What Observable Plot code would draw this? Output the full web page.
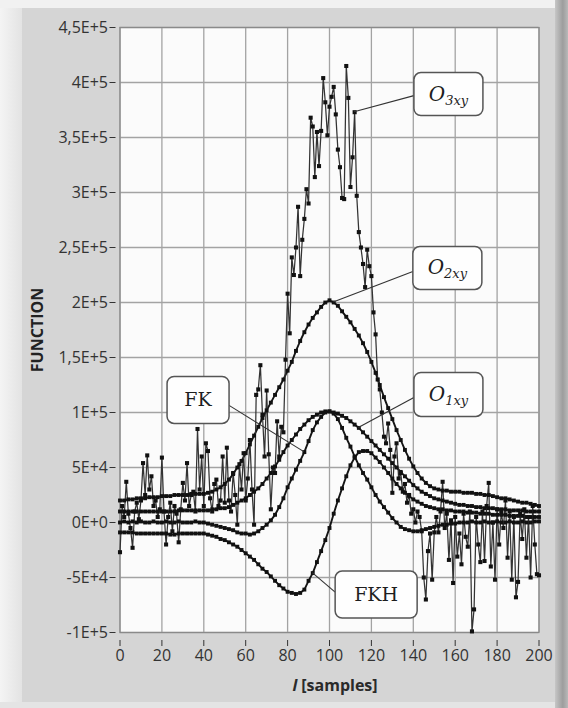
<!DOCTYPE html>
<html><head><meta charset="utf-8">
<script src="https://cdn.jsdelivr.net/npm/d3@7"></script>
<script src="https://cdn.jsdelivr.net/npm/@observablehq/plot@0.6"></script>
<style>
body{margin:0;background:#d5d5d5;}
#wrap{position:relative;width:568px;height:708px;background:#d5d5d5;overflow:hidden;}
.bg{position:absolute;}
#chart{position:absolute;left:0;top:0;}
</style></head><body>
<div id="wrap">
<div class="bg" style="left:0;top:0;width:22px;height:708px;background:linear-gradient(to right,#f4f4f4,#e3e3e3)"></div>
<div class="bg" style="left:0;top:0;width:568px;height:8px;background:#f1f1f1"></div>
<div class="bg" style="left:555px;top:0;width:13px;height:708px;background:linear-gradient(to right,#c6c6c6,#9d9d9d 60%,#b9b9b9)"></div>
<div class="bg" style="left:0;top:702px;width:555px;height:6px;background:#e4e4e4"></div>
<div id="chart"></div>
</div>
<script>
// ---- data (values in thousands) ----
const lAll = d3.range(0, 201, 1);      // sample index for O3xy
const lSmooth = d3.range(0, 201, 2);   // sample index for the smooth series

const o3xy = [
 -27,15,5,37,8,-5,-23,10,18,3,20,
 54,25,61,30,42,15,20,5,12,59,
 10,-20,5,18,-8,15,8,-18,12,36,
 20,54,15,25,28,10,85,30,60,15,
 72,65,22,10,35,39,15,20,60,18,
 68,20,10,45,25,-2,53,30,63,20,
 40,75,30,-2,116,121,143,98,60,120,
 62,12,50,45,92,60,87,82,148,208,
 172,241,225,250,287,224,257,276,303,290,
 368,360,314,355,324,356,404,382,352,378,
 387,396,371,339,323,295,294,415,386,305,
 332,373,297,264,250,235,214,248,233,224,
 191,171,130,121,100,78,72,90,66,27,
 60,72,40,45,28,35,18,25,8,12,
 0,10,5,-8,-50,-70,-26,-10,-52,-9,
 5,-9,10,37,-5,8,-34,2,-55,5,
 -31,-10,-38,8,-13,-22,10,-99,-79,5,
 -20,-36,10,-35,15,36,-40,0,-52,12,
 -20,10,-5,20,-32,10,-52,5,-68,-54,
 8,-15,12,-32,5,-50,15,-20,-47,-48
];
const o2xy = [
 20,20,21,21,22,22,22,23,23,23,
 24,24,24,25,25,25,25,26,26,26,
 26,27,28,30,32,35,39,44,50,56,
 63,71,79,87,95,102,109,116,123,130,
 138,146,156,165,173,180,186,191,196,200,
 202,200,197,192,187,182,176,170,163,155,
 146,136,125,114,104,94,84,75,66,58,
 51,45,40,36,33,31,30,29,29,28,
 28,28,27,27,27,26,26,25,25,24,
 23,22,22,21,20,19,18,18,17,16,
 15
];
const o1xy = [
 10,10,10,10,10,10,10,10,10,10,
 10,10,10,10,11,11,11,11,11,11,
 11,11,12,12,13,13,14,16,18,20,
 22,25,28,31,35,40,45,51,57,64,
 70,75,80,85,89,93,96,98,100,101,
 101,100,99,97,95,92,89,86,82,78,
 74,70,66,62,58,54,50,46,42,38,
 34,31,28,26,24,22,21,20,19,18,
 17,16,16,15,15,14,14,13,13,13,
 12,12,12,11,11,11,11,10,10,10,
 10
];
const fk = [
 0,1,0,1,0,1,0,0,1,0,
 0,1,0,0,1,0,0,0,1,0,
 0,-1,-2,-3,-4,-5,-6,-7,-9,-10,
 -10,-11,-10,-8,-5,-2,2,7,14,22,
 32,40,48,56,64,74,84,91,96,100,
 101,99,94,86,77,69,60,52,45,39,
 32,25,19,14,9,4,0,-4,-6,-7,
 -8,-8,-7,-6,-5,-4,-3,-2,-2,-1,
 -1,0,0,0,1,0,0,1,0,0,
 1,0,0,1,0,0,1,0,0,1,
 1
];
const fkh = [
 -9,-9,-9,-9,-10,-10,-10,-10,-10,-10,
 -10,-10,-11,-11,-10,-10,-10,-10,-10,-10,
 -10,-11,-12,-13,-15,-16,-18,-20,-22,-25,
 -28,-31,-34,-38,-42,-45,-49,-53,-57,-60,
 -63,-64,-65,-64,-61,-53,-46,-36,-26,-16,
 -5,8,20,31,42,52,59,64,65,65,
 63,59,55,50,45,40,35,31,27,24,
 21,19,17,15,14,13,12,12,11,11,
 10,10,10,9,9,9,8,8,8,7,
 7,7,7,6,6,6,6,5,5,5,
 5
];

const xTicks = [0,20,40,60,80,100,120,140,160,180,200];
const yTicks = [-100000,-50000,0,50000,100000,150000,200000,250000,300000,350000,400000,450000];
const yTickLabels = ["-1E+5","-5E+4","0E+0","5E+4","1E+5","1,5E+5","2E+5","2,5E+5","3E+5","3,5E+5","4E+5","4,5E+5"];

// annotations: label, subscript, sample index pointed at, box centre (data units, value in thousands)
const annLabel = ["O","O","O","FK","FKH"];
const annSub = ["3xy","2xy","1xy","",""];
const annIndex = [112, 51, 57, 44, 46];
const annBoxL = [157, 156.5, 157, 37.5, 122.5];
const annBoxV = [389, 231, 116, 111, -66];

// ---- build table ----
const K = 1000;
const smoothRows = [];
[["O2xy",o2xy],["O1xy",o1xy],["FK",fk],["FKH",fkh]].forEach(([name,arr]) =>
  arr.forEach((v,i) => smoothRows.push({series:name, l:lSmooth[i], v:v*K})));
const noisyRows = o3xy.map((v,i) => ({series:"O3xy", l:lAll[i], v:v*K}));
const annSeriesRows = [
  noisyRows,
  smoothRows.filter(d=>d.series==="O2xy"),
  smoothRows.filter(d=>d.series==="O1xy"),
  smoothRows.filter(d=>d.series==="FK"),
  smoothRows.filter(d=>d.series==="FKH")
];

// ---- layout ----
const W = 568, H = 708;
const plot = Plot.plot({
  width: W, height: H,
  marginLeft: 119.5, marginRight: 29.5, marginTop: 27, marginBottom: 76,
  style: {background: "transparent", fontFamily: "'Open Sans', sans-serif", fontSize: "16px", color: "#333", overflow: "visible"},
  x: {domain: [0, 200]},
  y: {domain: [-100000, 450000]},
  marks: [
    Plot.frame({fill: "#fbfbfb", stroke: "none"}),
    Plot.gridX(xTicks, {stroke: "#a3a3a3", strokeOpacity: 1, strokeWidth: 1.3}),
    Plot.gridY(yTicks, {stroke: "#a3a3a3", strokeOpacity: 1, strokeWidth: 1.3}),
    Plot.frame({stroke: "#8a8a8a", strokeWidth: 1.2}),
    Plot.axisX(xTicks, {tickSize: 6, tickPadding: 3, dy: 8, fontSize: 16, label: null, tickFormat: d => String(d)}),
    Plot.axisY(yTicks, {tickSize: 6, tickPadding: 2, dx: -4, fontSize: 16, label: null,
      tickFormat: d => yTickLabels[yTicks.indexOf(d)]}),
    Plot.line(smoothRows, {x: "l", y: "v", z: "series", stroke: "#151515", strokeWidth: 1.9}),
    Plot.line(noisyRows, {x: "l", y: "v", stroke: "#333", strokeWidth: 1.25}),
    Plot.dot(smoothRows, {x: "l", y: "v", symbol: "square", r: 2.2, fill: "#111", stroke: "none"}),
    Plot.dot(noisyRows, {x: "l", y: "v", symbol: "square", r: 2.3, fill: "#111", stroke: "none"})
  ]
});
document.getElementById("chart").appendChild(plot);

const sx = plot.scale("x"), sy = plot.scale("y");
const svg = d3.select(plot);

// axis titles
svg.append("text")
  .attr("transform", `translate(37,330) rotate(-90)`)
  .attr("text-anchor", "middle").attr("dominant-baseline", "central")
  .attr("font-family", "'Open Sans', sans-serif").attr("font-weight", "bold").attr("font-size", 16)
  .attr("fill", "#222").text("FUNCTION");
const xl = svg.append("text")
  .attr("x", (sx.apply(0)+sx.apply(200))/2 + 6).attr("y", 691)
  .attr("text-anchor", "middle")
  .attr("font-family", "'Open Sans', sans-serif").attr("font-weight", "bold").attr("font-size", 16)
  .attr("fill", "#2a2a2a");
xl.append("tspan").attr("font-style", "italic").text("l");
xl.append("tspan").text(" [samples]");

// annotation layout (pixels)
const boxW = [69, 69, 69, 62, 82];
const boxH = [43, 43, 44, 47, 47];
const leadDX = [-34.5, -34.5, -34.5, 31, -41];
const leadDY = [1.5, 3.5, 3, 5.5, -2.5];

const g = svg.append("g");
annLabel.forEach((lab, i) => {
  const cx = sx.apply(annBoxL[i]), cy = sy.apply(annBoxV[i]*K);
  const pt = annSeriesRows[i][annIndex[i]];
  const tx = sx.apply(pt.l), ty = sy.apply(pt.v);
  g.append("line").attr("x1", cx + leadDX[i]).attr("y1", cy + leadDY[i])
    .attr("x2", tx).attr("y2", ty).attr("stroke", "#333").attr("stroke-width", 1.1);
  g.append("rect").attr("x", cx - boxW[i]/2).attr("y", cy - boxH[i]/2)
    .attr("width", boxW[i]).attr("height", boxH[i]).attr("rx", 7).attr("ry", 7)
    .attr("fill", "#fefefe").attr("stroke", "#555").attr("stroke-width", 1.5);
  const t = g.append("text").attr("x", cx).attr("y", cy + 6.5).attr("text-anchor", "middle")
    .attr("font-family", "'DejaVu Serif', serif").attr("fill", "#1e1e1e");
  if (annSub[i]) {
    t.append("tspan").attr("font-style", "italic").attr("font-size", 20).text(lab);
    t.append("tspan").attr("font-style", "italic").attr("font-size", 13).attr("dy", 4).text(annSub[i]);
  } else {
    t.attr("font-size", 19).text(lab);
  }
});
</script>
</body></html>
